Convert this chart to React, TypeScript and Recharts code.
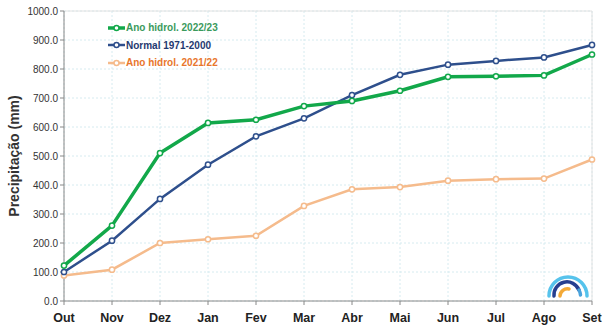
import React from 'react';
import { LineChart, Line, XAxis, YAxis, CartesianGrid, ReferenceLine, Label } from 'recharts';

const months = ['Out', 'Nov', 'Dez', 'Jan', 'Fev', 'Mar', 'Abr', 'Mai', 'Jun', 'Jul', 'Ago', 'Set'];
const hidro2223 = [122, 260, 510, 614, 625, 672, 690, 725, 773, 775, 778, 850];
const normal7100 = [100, 208, 352, 470, 568, 630, 710, 780, 815, 828, 840, 883];
const hidro2122 = [88, 108, 200, 213, 225, 328, 385, 393, 415, 420, 422, 488];
const yTicks = [0, 100, 200, 300, 400, 500, 600, 700, 800, 900, 1000];

const seriesNames = ['Ano hidrol. 2022/23', 'Normal 1971-2000', 'Ano hidrol. 2021/22'];

const data = months.map((m, i) => ({
  month: m,
  a: hidro2223[i],
  n: normal7100[i],
  b: hidro2122[i],
}));

const GREEN = '#12a84a';
const BLUE = '#2e4f8c';
const ORANGE = '#f5bb8c';

const legendItems = [
  { name: seriesNames[0], color: GREEN, text: '#3a9a5c', w: 3.5 },
  { name: seriesNames[1], color: BLUE, text: '#1f3a70', w: 2.5 },
  { name: seriesNames[2], color: ORANGE, text: '#e8762c', w: 2.5 },
];

const LegendBox = () => (
  <div style={{ position: 'absolute', left: 108, top: 19, display: 'flex', flexDirection: 'column' }}>
    {legendItems.map((it) => (
      <div key={it.name} style={{ display: 'flex', alignItems: 'center', height: 17.5 }}>
        <svg width={17} height={8} style={{ marginRight: 1 }}>
          <line x1={0} y1={4} x2={17} y2={4} stroke={it.color} strokeWidth={it.w} />
          <circle cx={8.5} cy={4} r={2.5} fill="#fff" stroke={it.color} strokeWidth={1.5} />
        </svg>
        <span
          style={{
            fontFamily: '"Liberation Sans Narrow", "Arial Narrow", sans-serif',
            fontWeight: 700,
            fontSize: 10,
            color: it.text,
            whiteSpace: 'nowrap',
          }}
        >
          {it.name}
        </span>
      </div>
    ))}
  </div>
);

const Logo = () => (
  <svg width={604} height={327} style={{ position: 'absolute', left: 0, top: 0, pointerEvents: 'none' }}>
    <path d="M 549 296 A 19 19 0 0 1 587 296" fill="none" stroke="#56c3ec" strokeWidth={3.5} strokeLinecap="round" />
    <path d="M 554 296 A 13 13 0 0 1 579 290" fill="none" stroke="#263f8f" strokeWidth={3.5} strokeLinecap="round" />
    <path d="M 579 290 A 13 13 0 0 1 580.5 295" fill="none" stroke="#4aa3dc" strokeWidth={3.5} strokeLinecap="round" />
    <path d="M 560 296 A 7.5 7.5 0 0 1 569 289" fill="none" stroke="#f3a937" strokeWidth={3.5} strokeLinecap="round" />
  </svg>
);

const dot = (color: string) => ({ r: 2.6, fill: '#fff', stroke: color, strokeWidth: 1.5 });

export default function App() {
  return (
    <div style={{ position: 'absolute', left: 0, top: 0, width: 604, height: 327, background: '#fff', overflow: 'hidden' }}>
      <LineChart width={604} height={327} data={data} margin={{ top: 11, right: 12, bottom: 0, left: 0 }}>
        <CartesianGrid stroke="#d6ebf0" strokeDasharray="2 2" />
        <XAxis
          dataKey="month"
          height={26}
          stroke="#888"
          tickLine={{ stroke: '#888' }}
          tickSize={4}
          dy={6}
          tick={{ fill: '#222', fontSize: 12.5, fontWeight: 700, fontFamily: '"Liberation Sans Narrow", "Arial Narrow", sans-serif' }}
        />
        <YAxis
          width={64}
          domain={[0, 1000]}
          ticks={yTicks}
          interval={0}
          stroke="#888"
          tickSize={4}
          tickFormatter={(v: number) => v.toFixed(1)}
          tick={{ fill: '#333', fontSize: 10, fontFamily: '"Liberation Sans Narrow", "Arial Narrow", sans-serif' }}
        >
          <Label
            value="Precipitação (mm)"
            angle={-90}
            position="insideLeft"
            offset={14}
            style={{ textAnchor: 'middle', fill: '#333', fontSize: 14, fontWeight: 700, fontFamily: '"Liberation Sans", Arial, sans-serif' }}
          />
        </YAxis>
        <ReferenceLine y={1000} stroke="#e2e2e2" />
        <ReferenceLine x="Set" stroke="#e2e2e2" />
        <Line type="linear" dataKey="b" name={seriesNames[2]} stroke={ORANGE} strokeWidth={2.5} dot={dot(ORANGE)} isAnimationActive={false} />
        <Line type="linear" dataKey="n" name={seriesNames[1]} stroke={BLUE} strokeWidth={2.5} dot={dot(BLUE)} isAnimationActive={false} />
        <Line type="linear" dataKey="a" name={seriesNames[0]} stroke={GREEN} strokeWidth={3.5} dot={dot(GREEN)} isAnimationActive={false} />
      </LineChart>
      <LegendBox />
      <Logo />
    </div>
  );
}
